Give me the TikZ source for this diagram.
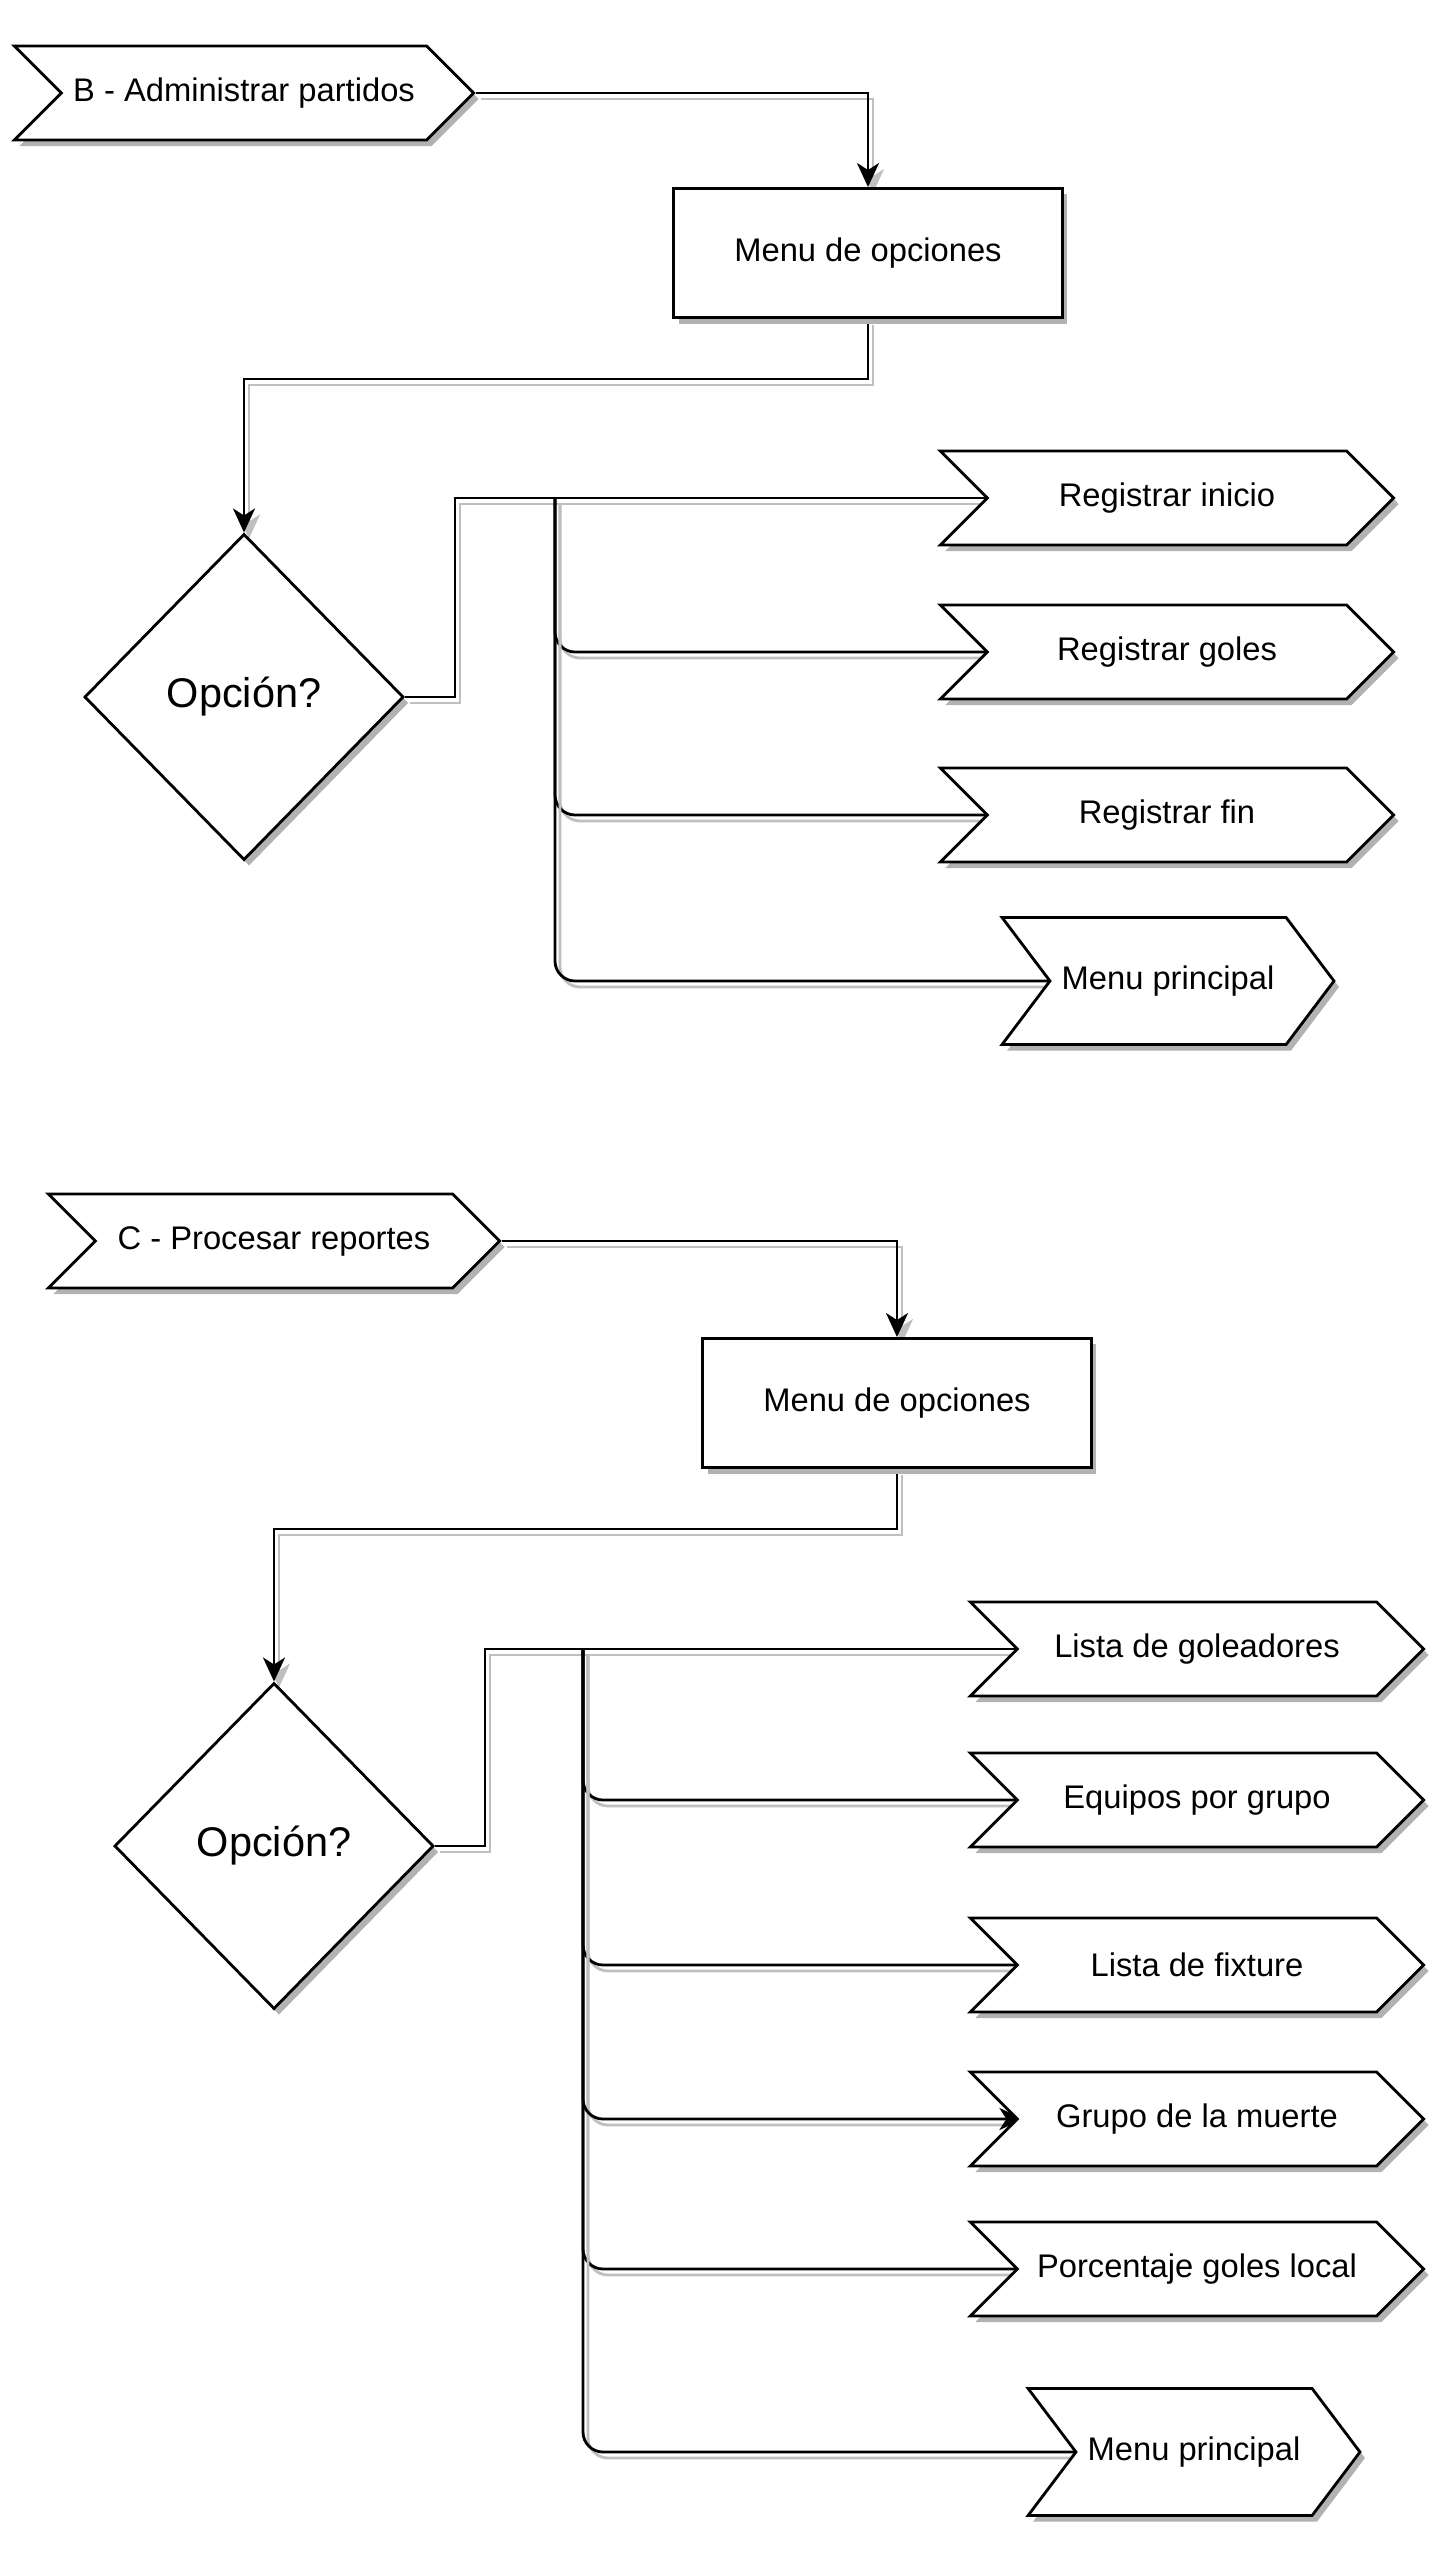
\documentclass[tikz,border=0pt]{standalone}
\usepackage{fontspec}
\setmainfont{Liberation Sans}
\usetikzlibrary{arrows.meta,shapes.geometric,shapes.symbols,shadows,backgrounds}

\begin{document}
\begin{tikzpicture}[x=0.01cm, y=-0.01cm, >={Stealth[length=2.4mm,width=2.2mm,inset=0.7mm]},
  every node/.style={font=\fontsize{9.3}{11}\selectfont, line width=0.8pt},
  boxshadow/.style={drop shadow={shadow xshift=0.05cm, shadow yshift=-0.06cm, fill=black!30, opacity=1}},
  chev/.style={draw, fill=white, boxshadow, signal, signal from=west, signal to=east, signal pointer angle=90, minimum width=4.53cm, minimum height=0.94cm},
  backchev/.style={minimum width=3.30cm, minimum height=1.27cm, signal pointer angle=106},
  menubox/.style={draw, fill=white, boxshadow, minimum width=3.88cm, minimum height=1.29cm},
  decision/.style={draw, fill=white, boxshadow, diamond, aspect=1, inner sep=0pt, minimum width=3.19cm, minimum height=3.26cm, font=\fontsize{11.8}{14}\selectfont},
  link/.style={line width=0.8pt, preaction={draw=black!25, line width=0.8pt, transform canvas={shift={(0.05cm,-0.06cm)}}}}]
\useasboundingbox (0,0) rectangle (1440,2555);

% B - partidos
\node[chev, minimum width=4.56cm] (adminB) at (244,93) {B - Administrar partidos};
\node[menubox] (menuB) at (868,253) {Menu de opciones};
\node[decision] (optB) at (244,697) {Opción?};
\node[chev] (regIni) at (1167,498) {Registrar inicio};
\node[chev] (regGol) at (1167,652) {Registrar goles};
\node[chev] (regFin) at (1167,815) {Registrar fin};
\node[chev, backchev] (backB) at (1168,981) {Menu principal};
\coordinate (busB) at (555,498);

% C - reportes
\node[chev, minimum width=4.51cm] (procC) at (274,1241) {C - Procesar reportes};
\node[menubox] (menuC) at (897,1403) {Menu de opciones};
\node[decision] (optC) at (274,1846) {Opción?};
\node[chev] (goleadores) at (1197,1649) {Lista de goleadores};
\node[chev] (equipos) at (1197,1800) {Equipos por grupo};
\node[chev] (fixture) at (1197,1965) {Lista de fixture};
\node[chev] (muerte) at (1197,2119) {Grupo de la muerte};
\node[chev] (porcentaje) at (1197,2269) {Porcentaje goles local};
\node[chev, backchev] (backC) at (1194,2452) {Menu principal};
\coordinate (busC) at (583,1649);

\begin{scope}[on background layer]
\draw[link,->] (adminB.east) -| (menuB.north);
\draw[link,->] (menuB.south) -- ++(0,60) -| (optB.north);
\draw[link] (optB.east) -- ++(50,0) |- (regIni.west);
\foreach \dest in {regGol,regFin,backB}
  \draw[link, rounded corners=2mm] (busB) |- (\dest.west);

\draw[link,->] (procC.east) -| (menuC.north);
\draw[link,->] (menuC.south) -- ++(0,60) -| (optC.north);
\draw[link] (optC.east) -- ++(50,0) |- (goleadores.west);
\foreach \dest in {equipos,fixture,porcentaje,backC}
  \draw[link, rounded corners=2mm] (busC) |- (\dest.west);
\draw[link, rounded corners=2mm, ->] (busC) |- ([xshift=0.08cm]muerte.west);
\end{scope}
\end{tikzpicture}
\end{document}
